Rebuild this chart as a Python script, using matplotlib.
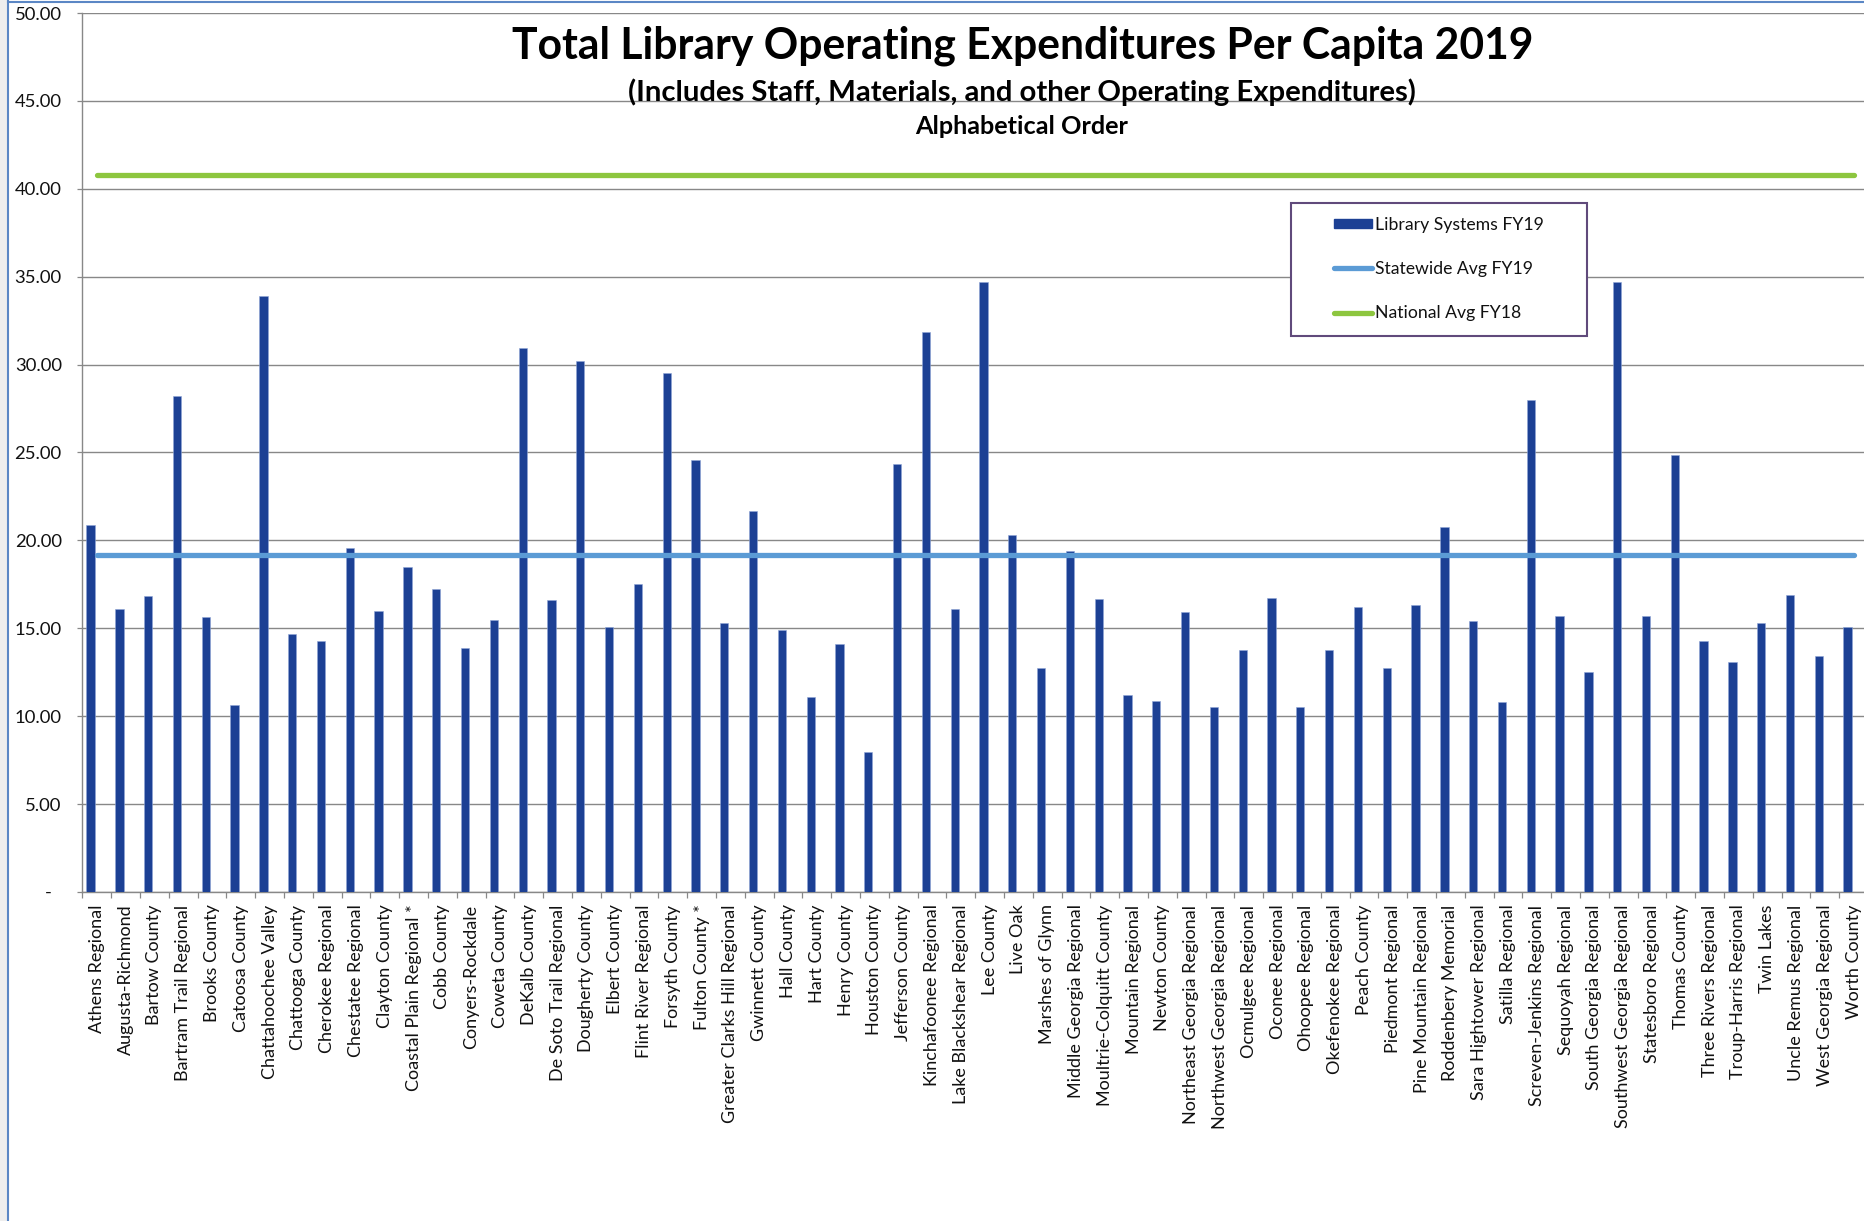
import matplotlib
matplotlib.use("Agg")
import matplotlib.pyplot as plt
from matplotlib.patches import Rectangle, Patch
from matplotlib.lines import Line2D
from matplotlib.ticker import FixedLocator, FuncFormatter
import numpy as np

# ---------------- data ----------------
systems = [
    "Athens Regional", "Augusta-Richmond", "Bartow County", "Bartram Trail Regional",
    "Brooks County", "Catoosa County", "Chattahoochee Valley", "Chattooga County",
    "Cherokee Regional", "Chestatee Regional", "Clayton County", "Coastal Plain Regional *",
    "Cobb County", "Conyers-Rockdale", "Coweta County", "DeKalb County",
    "De Soto Trail Regional", "Dougherty County", "Elbert County", "Flint River Regional",
    "Forsyth County", "Fulton County *", "Greater Clarks Hill Regional", "Gwinnett County",
    "Hall County", "Hart County", "Henry County", "Houston County",
    "Jefferson County", "Kinchafoonee Regional", "Lake Blackshear Regional", "Lee County",
    "Live Oak", "Marshes of Glynn", "Middle Georgia Regional", "Moultrie-Colquitt County",
    "Mountain Regional", "Newton County", "Northeast Georgia Regional", "Northwest Georgia Regional",
    "Ocmulgee Regional", "Oconee Regional", "Ohoopee Regional", "Okefenokee Regional",
    "Peach County", "Piedmont Regional", "Pine Mountain Regional", "Roddenbery Memorial",
    "Sara Hightower Regional", "Satilla Regional", "Screven-Jenkins Regional", "Sequoyah Regional",
    "South Georgia Regional", "Southwest Georgia Regional", "Statesboro Regional", "Thomas County",
    "Three Rivers Regional", "Troup-Harris Regional", "Twin Lakes", "Uncle Remus Regional",
    "West Georgia Regional", "Worth County",
]
expenditure_fy19 = [
    20.89, 16.10, 16.83, 28.20, 15.67, 10.64, 33.92, 14.66,
    14.27, 19.57, 15.98, 18.50, 17.22, 13.87, 15.45, 30.94,
    16.63, 30.23, 15.09, 17.54, 29.50, 24.57, 15.31, 21.68,
    14.92, 11.09, 14.11, 7.94, 24.32, 31.87, 16.10, 34.72,
    20.30, 12.75, 19.39, 16.69, 11.19, 10.86, 15.92, 10.50,
    13.75, 16.73, 10.50, 13.75, 16.20, 12.75, 16.30, 20.79,
    15.39, 10.80, 28.00, 15.71, 12.51, 34.72, 15.71, 24.83,
    14.27, 13.06, 15.31, 16.89, 13.42, 15.09,
]
statewide_avg_fy19 = 19.16
national_avg_fy18 = 40.76
y_ticks = [0, 5, 10, 15, 20, 25, 30, 35, 40, 45, 50]

title = "Total Library Operating Expenditures Per Capita 2019"
subtitle = "(Includes Staff, Materials, and other Operating Expenditures)"
subtitle2 = "Alphabetical Order"
legend_labels = ["Library Systems FY19", "Statewide Avg FY19", "National Avg FY18"]

# ---------------- style ----------------
W, H = 1865, 1221
DPI = 100
FONT = "Lato"
BAR_C = "#1C4094"
STATE_C = "#5B9BD5"
NAT_C = "#8DC63F"
GRID_C = "#888888"
TXT_C = "#111111"
FS = 13

plt.rcParams["font.family"] = [FONT, "DejaVu Sans"]

fig = plt.figure(figsize=(W / DPI, H / DPI), dpi=DPI)
fig.patch.set_facecolor("white")


def px(x, y):
    """pixel (from top-left) -> figure fraction"""
    return x / W, 1 - y / H


ax_left, ax_right, ax_top, ax_bot = 82.3, 1868.0, 13.0, 892.0
ax = fig.add_axes([ax_left / W, 1 - ax_bot / H, (ax_right - ax_left) / W, (ax_bot - ax_top) / H])

n = len(systems)
x = np.arange(n)

ax.bar(x - 0.21, expenditure_fy19, width=0.29, color=BAR_C, zorder=3,
       edgecolor="#8fa6d6", linewidth=0.4)
ax.plot(x, [statewide_avg_fy19] * n, color=STATE_C, lw=3.8,
        solid_capstyle="round", zorder=4)
ax.plot(x, [national_avg_fy18] * n, color=NAT_C, lw=3.8,
        solid_capstyle="round", zorder=4)

ax.set_xlim(-0.5, n - 0.5)
ax.set_ylim(0, 50)

# y axis
ax.set_yticks(y_ticks)
ax.yaxis.set_major_formatter(FuncFormatter(lambda v, p: "-  " if v == 0 else f"{v:.2f}"))
ax.tick_params(axis="y", which="major", direction="out", length=3.8, width=0.9,
               color=GRID_C, pad=11.0, labelsize=FS + 0.3, labelcolor=TXT_C)
ax.grid(axis="y", color=GRID_C, lw=1.0, zorder=0)
ax.set_axisbelow(True)

# x axis
ax.set_xticks(x)
ax.set_xticklabels(systems, rotation=90, ha="center", va="top")
ax.xaxis.set_minor_locator(FixedLocator(np.arange(-0.5, n, 1.0)))
ax.tick_params(axis="x", which="major", length=0, pad=9.0, labelsize=FS, labelcolor=TXT_C)
ax.tick_params(axis="x", which="minor", direction="out", length=4.3, width=0.9, color=GRID_C)

for s in ["top", "right"]:
    ax.spines[s].set_visible(False)
for s in ["left", "bottom"]:
    ax.spines[s].set_color(GRID_C)
    ax.spines[s].set_linewidth(1.0)

# ---------------- titles (fit to measured widths) ----------------
renderer = fig.canvas.get_renderer()


def fitted_text(s, cx, cy, target_w, base=20):
    t = fig.text(*px(cx, cy), s, ha="center", va="center", fontsize=base,
                 fontweight="bold", color="black")
    w = t.get_window_extent(renderer).width
    t.set_fontsize(base * target_w / w)
    return t


fitted_text(title, 1023, 46, 1023)
fitted_text(subtitle, 1022, 92, 788)
fitted_text(subtitle2, 1022, 127, 214)

# ---------------- legend ----------------
frame = Rectangle(px(1291, 336), (1587 - 1291) / W, (336 - 203) / H,
                  transform=fig.transFigure, facecolor="white", edgecolor="#604A7B",
                  linewidth=1.5, zorder=5)
fig.add_artist(frame)

handles = [Patch(facecolor=BAR_C, edgecolor=BAR_C),
           Line2D([], [], color=STATE_C, lw=3.8, solid_capstyle="round"),
           Line2D([], [], color=NAT_C, lw=3.8, solid_capstyle="round")]
leg = fig.legend(handles, legend_labels, loc="center left",
                 bbox_to_anchor=px(1334, 269), bbox_transform=fig.transFigure,
                 frameon=False, borderpad=0, borderaxespad=0,
                 handlelength=2.15, handleheight=0.46, handletextpad=0.18,
                 labelspacing=1.6, fontsize=FS - 0.3)
leg.set_zorder(6)
for t in leg.get_texts():
    t.set_color(TXT_C)

# ---------------- window chrome (screenshot frame) ----------------
fig.add_artist(Rectangle((0, 0), 8 / W, 1, transform=fig.transFigure,
                         facecolor="#EEEEEE", edgecolor="none", zorder=0))
fig.add_artist(Line2D([8.5 / W, 8.5 / W], [0, 1 - 1 / H], transform=fig.transFigure,
                      color="#5B87C5", lw=1.5))
fig.add_artist(Line2D([8.5 / W, 1], [1 - 1.5 / H, 1 - 1.5 / H], transform=fig.transFigure,
                      color="#5B87C5", lw=1.5))

fig.savefig("out.png", dpi=DPI)
